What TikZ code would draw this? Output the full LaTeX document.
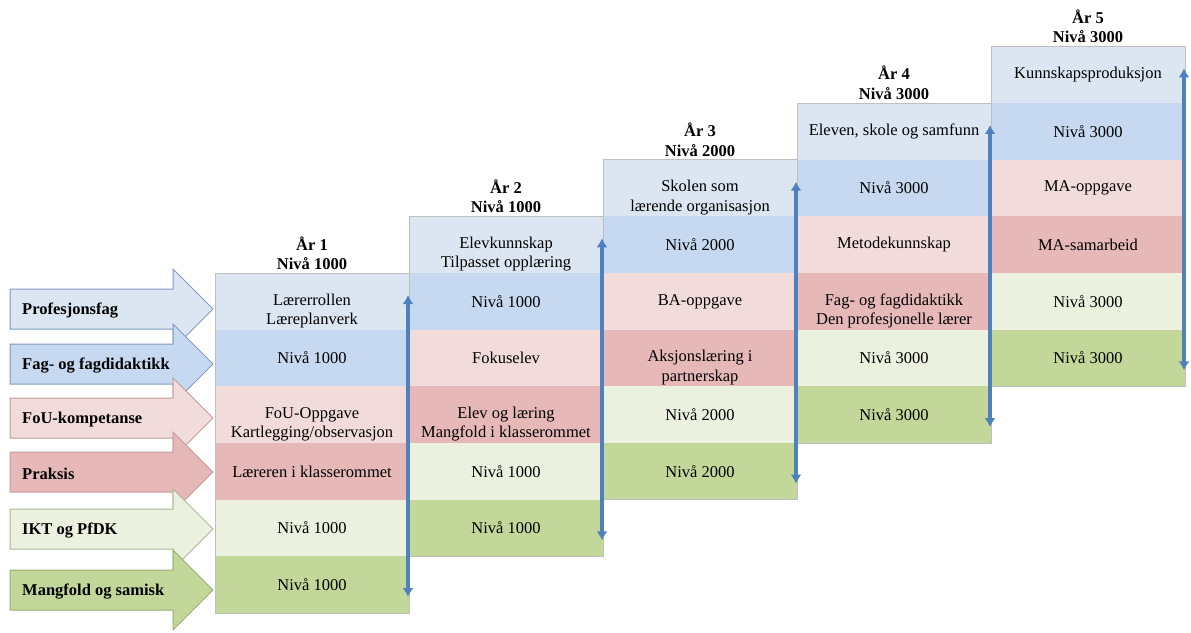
\documentclass[tikz,border=0pt]{standalone}
\usepackage{fontspec}
\setmainfont{Liberation Serif}
\usetikzlibrary{arrows.meta}
\definecolor{r1}{HTML}{DCE6F2}
\definecolor{r2}{HTML}{C6D9F1}
\definecolor{r3}{HTML}{F2DCDB}
\definecolor{r4}{HTML}{E6B9B8}
\definecolor{r5}{HTML}{EBF1DE}
\definecolor{r6}{HTML}{C4D79B}
\definecolor{o1}{HTML}{7F9AC0}
\definecolor{o2}{HTML}{7F9AC0}
\definecolor{o3}{HTML}{C39C9B}
\definecolor{o4}{HTML}{C39C9B}
\definecolor{o5}{HTML}{A9B896}
\definecolor{o6}{HTML}{98AE73}
\definecolor{vblue}{HTML}{4F81BD}
\definecolor{cborder}{HTML}{BFBFBF}
\tikzset{
  cell/.style={minimum width=194pt, minimum height=56.67pt, inner sep=0pt, outer sep=0pt, draw=none},
  txt/.style={font=\fontsize{16.5}{19.5}\selectfont, align=center, inner sep=0pt},
  hdr/.style={font=\fontsize{16.5}{19.5}\selectfont\bfseries, align=center, inner sep=0pt},
  lbl/.style={font=\fontsize{16.5}{19.5}\selectfont\bfseries, anchor=west, inner sep=0pt},
  colborder/.style={draw=cborder, line width=0.8pt},
  varrow/.style={draw=vblue, line width=3.3pt, {Latex[length=9pt,width=11pt]}-{Latex[length=9pt,width=11pt]}},
  blockarrow/.style={line width=1pt}
}
\newcommand{\mkcell}[4]{%
  \node[cell, fill=r#2] (c#1#2) at ({312+194*#1},{273-56.67*#1+56.67*#2-28.33}) {};
  \node[txt, yshift=#4] (t#1#2) at (c#1#2.center) {#3};
}
\begin{document}
\begin{tikzpicture}[x=1pt,y=-1pt]
\useasboundingbox (0,0) rectangle (1191,632);
% left block arrows
\foreach \c/\lab/\i in {309/Profesjonsfag/1, 364/{Fag- og fagdidaktikk}/2, 418/FoU-kompetanse/3, 472/Praksis/4, 529/{IKT og PfDK}/5, 590/{Mangfold og samisk}/6}{
  \draw[blockarrow, fill=r\i, draw=o\i] (10,\c-20) -- (173,\c-20) -- (173,\c-40) -- (213,\c) -- (173,\c+40) -- (173,\c+20) -- (10,\c+20) -- cycle;
  \node[lbl] (l\i) at (22,\c+2) {\lab};
}
% columns
\mkcell{0}{1}{Lærerrollen\\Læreplanverk}{-9.5pt}
\mkcell{0}{2}{Nivå 1000}{0pt}
\mkcell{0}{3}{FoU-Oppgave\\Kartlegging/observasjon}{-9.5pt}
\mkcell{0}{4}{Læreren i klasserommet}{0pt}
\mkcell{0}{5}{Nivå 1000}{0pt}
\mkcell{0}{6}{Nivå 1000}{0pt}
\mkcell{1}{1}{Elevkunnskap\\Tilpasset opplæring}{-9.5pt}
\mkcell{1}{2}{Nivå 1000}{0pt}
\mkcell{1}{3}{Fokuselev}{0pt}
\mkcell{1}{4}{Elev og læring\\Mangfold i klasserommet}{-9.5pt}
\mkcell{1}{5}{Nivå 1000}{0pt}
\mkcell{1}{6}{Nivå 1000}{0pt}
\mkcell{2}{1}{Skolen som\\lærende organisasjon}{-9.5pt}
\mkcell{2}{2}{Nivå 2000}{0pt}
\mkcell{2}{3}{BA-oppgave}{0pt}
\mkcell{2}{4}{Aksjonslæring i\\partnerskap}{-9.5pt}
\mkcell{2}{5}{Nivå 2000}{0pt}
\mkcell{2}{6}{Nivå 2000}{0pt}
\mkcell{3}{1}{Eleven, skole og samfunn}{0pt}
\mkcell{3}{2}{Nivå 3000}{0pt}
\mkcell{3}{3}{Metodekunnskap}{0pt}
\mkcell{3}{4}{Fag- og fagdidaktikk\\Den profesjonelle lærer}{-9.5pt}
\mkcell{3}{5}{Nivå 3000}{0pt}
\mkcell{3}{6}{Nivå 3000}{0pt}
\mkcell{4}{1}{Kunnskapsproduksjon}{0pt}
\mkcell{4}{2}{Nivå 3000}{0pt}
\mkcell{4}{3}{MA-oppgave}{0pt}
\mkcell{4}{4}{MA-samarbeid}{0pt}
\mkcell{4}{5}{Nivå 3000}{0pt}
\mkcell{4}{6}{Nivå 3000}{0pt}
% borders and headers
\foreach \k/\yr/\niv in {0/1/1000, 1/2/1000, 2/3/2000, 3/4/3000, 4/5/3000}{
  \draw[colborder] (c\k1.north west) rectangle (c\k6.south east);
  \path (c\k1.north) ++(0,-20) node[hdr] (h\k) {År \yr\\Nivå \niv};
}
% vertical arrows
\foreach \k in {0,...,4}{
  \path (c\k1.north east) ++(-1,22) coordinate (vt\k);
  \path (c\k6.south east) ++(-1,-16) coordinate (vb\k);
  \draw[varrow] (vt\k) -- (vb\k);
}
\end{tikzpicture}
\end{document}
